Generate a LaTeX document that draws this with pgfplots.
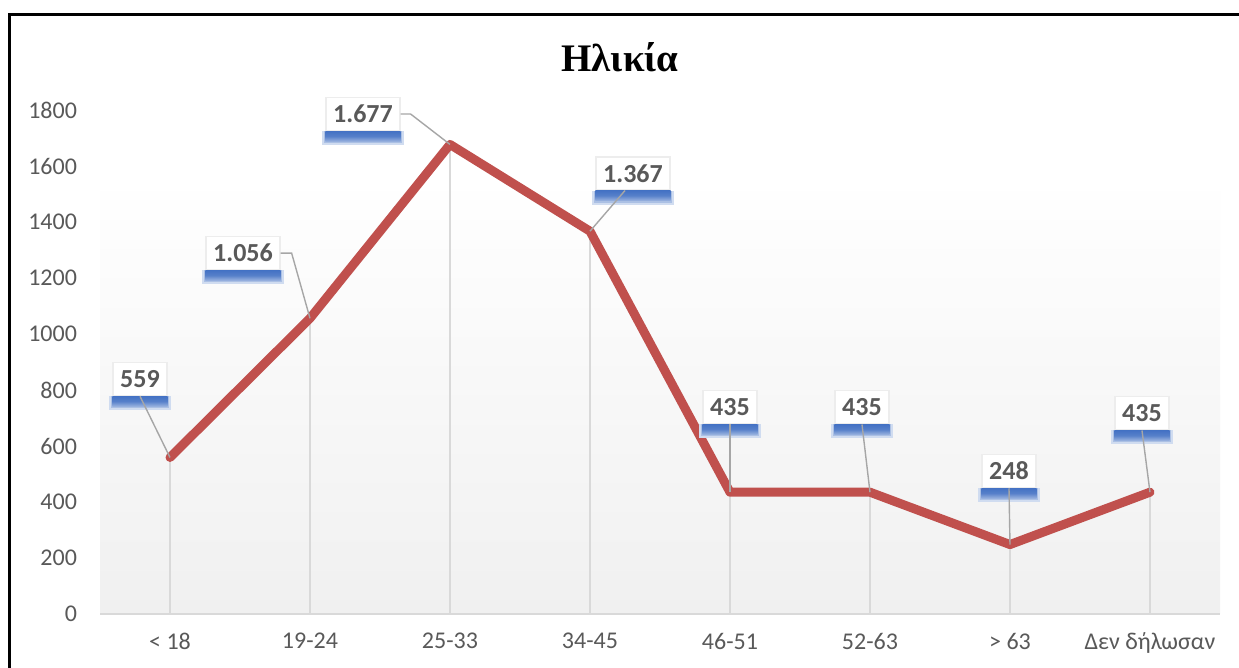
\documentclass[border=0pt]{standalone}
\usepackage{fontspec}
\setmainfont{Carlito}
\newfontfamily\titlefont{Liberation Serif}
\usepackage{pgfplots}
\pgfplotsset{compat=1.18}
\usetikzlibrary{calc}
\definecolor{lnred}{HTML}{C0504D}
\definecolor{txtgray}{HTML}{595959}
\definecolor{shblue}{HTML}{4472C4}
\definecolor{bggray}{HTML}{F0F0F0}
\definecolor{dropgray}{HTML}{D9D9D9}
\definecolor{leadgray}{HTML}{A6A6A6}
\tikzset{lbl/.style={fill=white, draw=black!7, line width=0.8pt, font=\bfseries\fontsize{13}{15}\selectfont, text=txtgray,
     inner xsep=3.5pt, inner ysep=0pt, minimum height=16.5pt}}
\pgfplotstableread{
x y
0 559
1 1056
2 1677
3 1367
4 435
5 435
6 248
7 435
}\agedata
\newcommand\dlab[6]{%
  \node[lbl] (L#1) at ([shift={(#4pt,#5pt)}]axis cs:#1,#2) {#3};
  \fill[shblue!25] ([xshift=-1.5pt]L#1.south west) rectangle ([xshift=1.5pt,yshift=-7pt]L#1.south east);
  \fill[shblue!45] ([xshift=-0.8pt]L#1.south west) rectangle ([xshift=0.8pt,yshift=-6pt]L#1.south east);
  \shade[top color=shblue, bottom color=shblue!55, middle color=shblue!90]
     ([xshift=0pt]L#1.south west) rectangle ([xshift=0pt,yshift=-5pt]L#1.south east);
  \draw[leadgray, line width=0.7pt] #6 (axis cs:#1,#2);
}
\begin{document}
\begin{tikzpicture}[x=1pt,y=1pt]
\useasboundingbox (0pt,0pt) rectangle (619.5pt,334pt);
\clip (0pt,0pt) rectangle (619.5pt,334pt);
\fill[white] (0pt,0pt) rectangle (619.5pt,334pt);
\begin{axis}[
  at={(50pt,27pt)}, anchor=south west,
  scale only axis, width=560pt, height=252pt,
  xmin=-0.5, xmax=7.5, ymin=0, ymax=1800,
  clip=false,
  axis line style={draw=none},
  major tick length=0pt,
  xtick={0,...,7},
  xticklabels={{< 18},{19-24},{25-33},{34-45},{46-51},{52-63},{> 63},{Δεν δήλωσαν}},
  ytick={0,200,...,1800},
  /pgf/number format/1000 sep={},
  /pgf/number format/assume math mode=true,
  tick label style={font=\fontsize{12}{14}\selectfont, text=txtgray},
  yticklabel style={xshift=-8pt},
  xticklabel style={yshift=-6pt},
]
\shade[top color=white, bottom color=bggray] (axis cs:-0.5,0) rectangle (axis cs:7.5,1565);
\draw[dropgray, line width=1pt] (axis cs:-0.5,0) -- (axis cs:7.5,0);
\addplot[ycomb, draw=dropgray, line width=0.9pt, no marks] table[x=x,y=y] {\agedata};
\addplot[lnred, line width=4.5pt, line cap=round, line join=round, no marks] table[x=x,y=y] {\agedata};
\dlab{0}{559}{559}{-15}{39.25}{(L0.south) --}
\dlab{1}{1056}{1.056}{-33.5}{32.6}{(L1.east) -- ++(5.5pt,0pt) --}
\dlab{2}{1677}{1.677}{-43.5}{15.2}{(L2.east) -- ++(5pt,0pt) --}
\dlab{3}{1367}{1.367}{21.5}{29}{([xshift=-4pt]L3.south) --}
\dlab{4}{435}{435}{0}{42.6}{(L4.south) --}
\dlab{5}{435}{435}{-4}{42.5}{(L5.south) --}
\dlab{6}{248}{248}{-0.5}{36.8}{(L6.south) --}
\dlab{7}{435}{435}{-4}{39.5}{(L7.south) --}
\end{axis}
\node[font=\titlefont\bfseries\fontsize{19.5}{22}\selectfont] at (310pt,305.5pt) {Ηλικία};
\draw[black, line width=1.4pt] (4.85pt,-20pt) rectangle (640pt,326.65pt);
\end{tikzpicture}
\end{document}
